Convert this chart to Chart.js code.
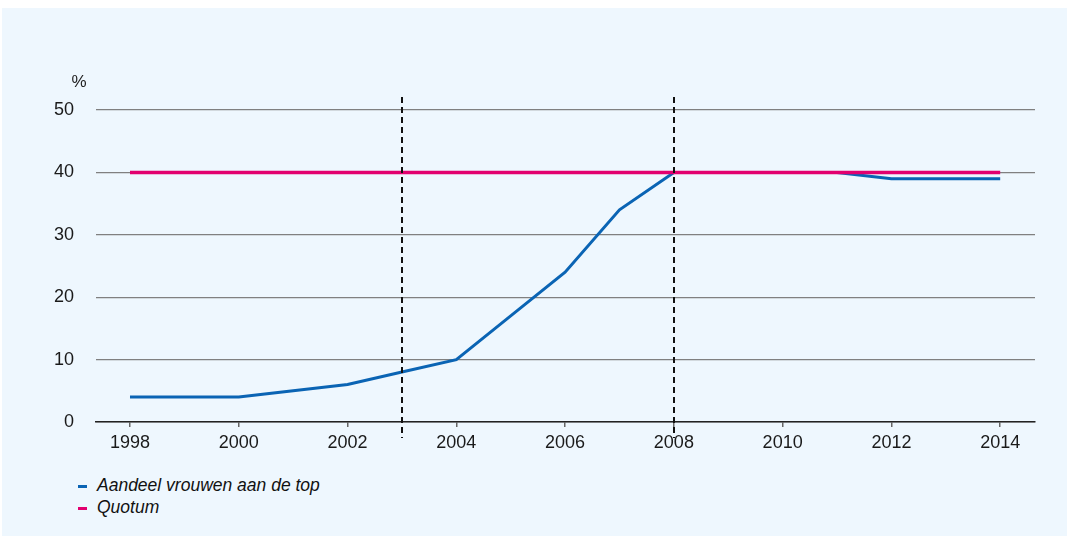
<!DOCTYPE html>
<html>
<head>
<meta charset="utf-8">
<script src="https://cdn.jsdelivr.net/npm/chart.js@4"></script>
<style>
  body { margin: 0; background: #fff; font-family: "Liberation Sans", Arial, sans-serif; }
  #panel { position: absolute; left: 2px; top: 8px; width: 1065px; height: 528px; background: #eef7fe; }
  #wrap { position: absolute; left: 0; top: 0; width: 1067px; height: 460px; }
  .legend { position: absolute; left: 78px; font-size: 17.5px; font-style: italic; color: #111; }
  .legend span { display: inline-block; width: 9px; height: 3px; margin-right: 10px; vertical-align: middle; }
</style>
</head>
<body>
<div id="panel"></div>
<div id="wrap"><canvas id="ChartQuotum"></canvas></div>
<div class="legend" style="top:475px"><span style="background:#0a64b4"></span>Aandeel vrouwen aan de top</div>
<div class="legend" style="top:497px"><span style="background:#e2006f"></span>Quotum</div>
<script>
const jaren = [1998, 1999, 2000, 2001, 2002, 2003, 2004, 2005, 2006, 2007, 2008, 2009, 2010, 2011, 2012, 2013, 2014];
const aandeelVrouwen = [4, 4, 4, 5, 6, 8, 10, 17, 24, 34, 40, 40, 40, 40, 39, 39, 39];
const quotum = [40, 40, 40, 40, 40, 40, 40, 40, 40, 40, 40, 40, 40, 40, 40, 40, 40];
const xTickLabels = [1998, 2000, 2002, 2004, 2006, 2008, 2010, 2012, 2014];
const yTickLabels = [0, 10, 20, 30, 40, 50];
const markeringen = [2003, 2008];

const toPoints = (vals) => vals.map((v, i) => ({ x: jaren[i], y: v }));

// dashed verticals + "%" label
const extraPlugin = {
    id: 'extra',
    afterDatasetsDraw(chart) {
        const ctx = chart.ctx;
        const xs = chart.scales.x;
        const area = chart.chartArea;
        ctx.save();
        ctx.strokeStyle = '#111';
        ctx.lineWidth = 2;
        ctx.setLineDash([6, 4]);
        markeringen.forEach(j => {
            const px = Math.round(xs.getPixelForValue(j));
            ctx.beginPath();
            ctx.moveTo(px, area.top - 13);
            ctx.lineTo(px, area.bottom + 16);
            ctx.stroke();
        });
        ctx.setLineDash([]);
        ctx.fillStyle = '#222';
        ctx.font = '17px "Liberation Sans", Arial, sans-serif';
        ctx.textAlign = 'center';
        ctx.textBaseline = 'middle';
        ctx.fillText('%', area.left - 17, area.top - 28);
        ctx.restore();
    }
};

const ctx = document.getElementById('ChartQuotum').getContext('2d');
const chartQuotum = new Chart(ctx, {
    type: 'line',
    data: {
        datasets: [{
            label: 'Aandeel vrouwen aan de top',
            data: toPoints(aandeelVrouwen),
            borderColor: '#0a64b4',
            borderWidth: 3,
            pointRadius: 0,
            tension: 0,
            order: 1
        },
        {
            label: 'Quotum',
            data: toPoints(quotum),
            borderColor: '#e2006f',
            borderWidth: 3.5,
            pointRadius: 0,
            tension: 0,
            order: 0
        }]
    },
    options: {
        responsive: true,
        maintainAspectRatio: false,
        animation: false,
        layout: {
            padding: { top: 110, right: 32, bottom: 8, left: 0 }
        },
        plugins: {
            legend: { display: false },
            tooltip: { enabled: false }
        },
        scales: {
            x: {
                type: 'linear',
                min: 1997.375,
                max: 2014.64,
                afterBuildTicks: (scale) => {
                    scale.ticks = xTickLabels.map(v => ({ value: v }));
                },
                afterFit: (scale) => { scale.height = 30; },
                ticks: {
                    color: '#1a1a1a',
                    font: { family: '"Liberation Sans", Arial, sans-serif', size: 18 },
                    padding: 5,
                    maxRotation: 0,
                    callback: (v) => String(v)
                },
                grid: {
                    drawOnChartArea: false,
                    drawTicks: true,
                    tickLength: 5,
                    color: '#666',
                    lineWidth: 1.5
                },
                border: { color: '#222', width: 1.5 }
            },
            y: {
                min: 0,
                max: 50,
                afterBuildTicks: (scale) => {
                    scale.ticks = yTickLabels.map(v => ({ value: v }));
                },
                afterFit: (scale) => { scale.width = 96; },
                ticks: {
                    color: '#1a1a1a',
                    font: { family: '"Liberation Sans", Arial, sans-serif', size: 18 },
                    padding: 22
                },
                grid: {
                    color: '#808080',
                    lineWidth: 1.3,
                    drawTicks: false
                },
                border: { display: false }
            }
        }
    },
    plugins: [extraPlugin]
});
</script>
</body>
</html>
